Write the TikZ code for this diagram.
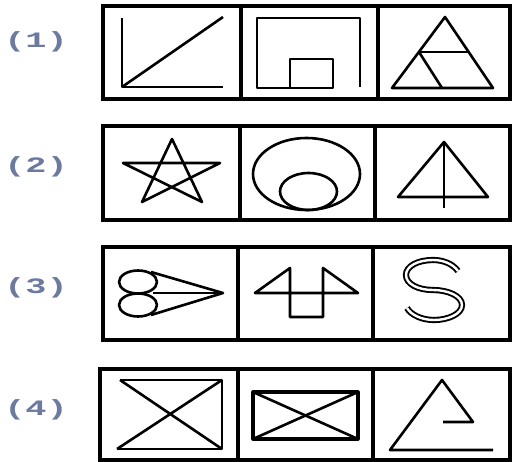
\documentclass[tikz,border=0pt]{standalone}
\usepackage{fontspec}
\newfontfamily\labelfont{Liberation Mono}
\definecolor{labelblue}{RGB}{108,122,160}
\tikzset{
  frame/.style={line width=3.2pt},
  fig/.style={line width=2.6pt, line join=round},
  rowlabel/.style={font=\labelfont\bfseries\fontsize{22}{22}\selectfont, text=labelblue, xscale=1.6, inner sep=0pt},
}

\begin{document}
\begin{tikzpicture}[x=1pt, y=-1pt]
\useasboundingbox (0,0) rectangle (513,462);

% 行号
\node[rowlabel] (lab1) at (36,42) {(1)};
\node[rowlabel] (lab2) at (36,167) {(2)};
\node[rowlabel] (lab3) at (36,288) {(3)};
\node[rowlabel] (lab4) at (36,410) {(4)};

% 第一行：外框
\draw[frame] (103,6) rectangle (510,99);
\draw[frame] (241,6) -- (241,99);
\draw[frame] (378,6) -- (378,99);
% 角
\draw[fig] (122,18) -- (122,87) -- (223,87);
\draw[fig] (122,87) -- (223,17);
% 方框套小方框
\draw[fig] (360,87) -- (360,18) -- (257,18) -- (257,88) -- (333,88) -- (333,59) -- (290,59) -- (290,88);
% 分割三角形
\draw[fig] (445,17) -- (392,88) -- (493,88) -- cycle;
\draw[fig] (419,52) -- (470,52);
\draw[fig] (419,52) -- (442,88);

% 第二行：外框
\draw[frame] (103,126) rectangle (510,220);
\draw[frame] (240,126) -- (240,220);
\draw[frame] (375,126) -- (375,220);
% 五角星
\draw[fig] (172,139) -- (142,202) -- (220,163) -- (123,163) -- (202,202) -- cycle;
% 内切椭圆
\draw[fig] (306.5,174) ellipse (53.5 and 36);
\draw[fig] (308.5,191.5) ellipse (28.5 and 18.5);
% 三角形加竖线
\draw[fig] (444,142) -- (398,197) -- (488,197) -- cycle;
\draw[fig] (444,142) -- (444,208);

% 第三行：外框
\draw[frame] (103,247) rectangle (510,340);
\draw[frame] (238,247) -- (238,340);
\draw[frame] (373,247) -- (373,340);
% 两圆加箭头
\draw[fig] (138,282) ellipse (19 and 11.5);
\draw[fig] (138,305) ellipse (19 and 11.5);
\draw[fig] (151,272) -- (223,293) -- (151,315);
\draw[fig] (153,293) -- (223,293);
% 凹形
\draw[fig] (255,293) -- (290,268) -- (290,317) -- (323,317) -- (323,268) -- (358,293) -- cycle;
% 双线 S
\draw[line width=1.9pt, double, double distance=2.4pt]
  (458,271) .. controls (452,263) and (442,260) .. (433,260)
  .. controls (418,260) and (406,266) .. (406,275)
  .. controls (406,284) and (418,290) .. (433,290)
  .. controls (448,290) and (462,296) .. (462,305)
  .. controls (462,314) and (448,320) .. (434,320)
  .. controls (422,320) and (411,315) .. (407,308);

% 第四行：外框
\draw[frame] (100,369) rectangle (510,460);
\draw[frame] (238,369) -- (238,460);
\draw[frame] (373,369) -- (373,460);
% 缺边的叉形
\draw[fig] (120,380) -- (222,380) -- (222,449) -- (117,449);
\draw[fig] (120,380) -- (222,449);
\draw[fig] (117,449) -- (222,380);
% 矩形加对角线
\draw[fig, line width=3.2pt] (253,392) rectangle (358,439);
\draw[fig] (253,392) -- (358,439);
\draw[fig] (253,439) -- (358,392);
% 未闭合三角形
\draw[fig] (493,450) -- (390,450) -- (442,380) -- (473,422) -- (443,422);

\end{tikzpicture}
\end{document}
